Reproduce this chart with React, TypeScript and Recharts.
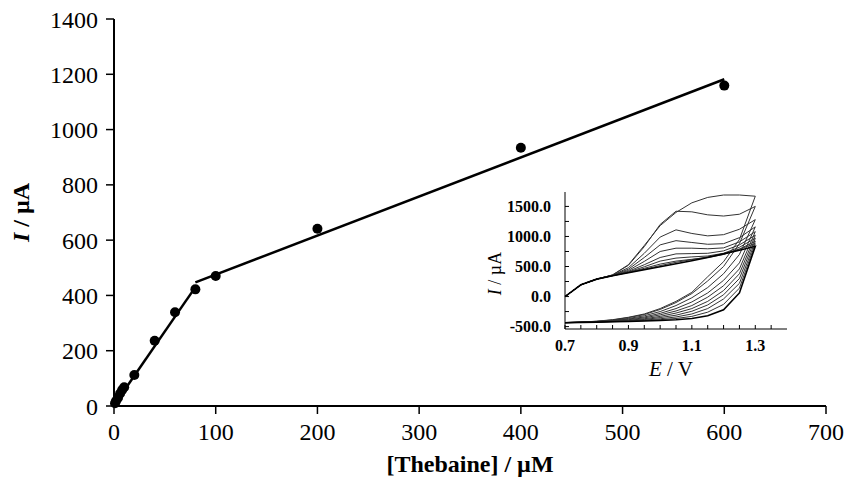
import React from 'react'
import { ComposedChart, LineChart, Line, Scatter, XAxis, YAxis, Label } from 'recharts'

const SERIF = '"Liberation Serif", "Times New Roman", serif'

// calibration points: [Thebaine] (µM) vs peak current (µA)
const concentration = [1, 2, 4, 6, 8, 10, 20, 40, 60, 80, 100, 200, 400, 600]
const current = [10, 18, 30, 45, 58, 68, 112, 236, 339, 422, 470, 641, 934, 1159]

// the two linear ranges
const lowFitX = [0, 80]
const lowFitY = [3, 430]
const highFitX = [80, 600]
const highFitY = [447, 1182]

const xTicks = [0, 100, 200, 300, 400, 500, 600, 700]
const yTicks = [0, 200, 400, 600, 800, 1000, 1200, 1400]

// inset: cyclic voltammograms, forward 0.70 -> 1.30 V then back to 0.70 V
const scanPotential = [
  0.7, 0.75, 0.8, 0.85, 0.9, 0.95, 1.0, 1.05, 1.1, 1.15, 1.2, 1.25, 1.3,
  1.25, 1.2, 1.15, 1.1, 1.05, 1.0, 0.95, 0.9, 0.85, 0.8, 0.75, 0.7,
]
const scanA = [0, 195, 290, 360, 530, 850, 1180, 1400, 1560, 1650, 1690, 1690, 1670, 950, 580, 330, 70, -80, -200, -290, -345, -385, -410, -425, -432]
const scanB = [0, 195, 290, 360, 520, 830, 1200, 1420, 1410, 1360, 1340, 1370, 1500, 880, 500, 260, 50, -100, -215, -300, -350, -390, -412, -426, -432]
const scanC = [0, 195, 290, 355, 480, 720, 990, 1110, 1050, 1010, 1030, 1120, 1280, 700, 380, 150, -20, -150, -250, -320, -365, -395, -415, -427, -433]
const scanD = [0, 195, 290, 355, 455, 650, 860, 930, 900, 870, 880, 980, 1160, 560, 270, 60, -90, -200, -280, -340, -375, -400, -418, -428, -433]
const scanE = [0, 195, 290, 352, 435, 585, 750, 805, 805, 795, 810, 910, 1080, 460, 180, -10, -150, -240, -305, -355, -385, -405, -420, -428, -434]
const scanF = [0, 195, 290, 350, 420, 530, 650, 710, 715, 720, 760, 860, 1020, 380, 100, -80, -200, -275, -330, -370, -395, -410, -422, -429, -434]
const scanG = [0, 195, 290, 348, 410, 495, 590, 640, 660, 675, 720, 820, 970, 300, 30, -140, -245, -310, -350, -382, -402, -414, -424, -430, -435]
const scanH = [0, 195, 290, 347, 405, 470, 540, 590, 620, 650, 700, 790, 920, 220, -40, -200, -290, -340, -370, -392, -407, -417, -425, -430, -435]
const scanI = [0, 195, 290, 346, 400, 455, 515, 570, 615, 660, 715, 790, 880, 140, -130, -260, -330, -365, -385, -400, -411, -419, -426, -431, -436]
const scanBlank = [0, 195, 290, 345, 396, 445, 495, 545, 595, 650, 710, 770, 836, 60, -220, -320, -365, -385, -398, -408, -415, -420, -425, -430, -437]

const insetXTicks = [0.7, 0.75, 0.8, 0.85, 0.9, 0.95, 1.0, 1.05, 1.1, 1.15, 1.2, 1.25, 1.3, 1.35]
const insetXLabels = [0.7, 0.9, 1.1, 1.3]
const insetYTicks = [-500, -250, 0, 250, 500, 750, 1000, 1250, 1500]
const insetYLabels = [-500, 0, 500, 1000, 1500]

const points = concentration.map((x, i) => ({ x, y: current[i] }))
const lowFit = lowFitX.map((x, i) => ({ x, y: lowFitY[i] }))
const highFit = highFitX.map((x, i) => ({ x, y: highFitY[i] }))

const scans = [scanA, scanB, scanC, scanD, scanE, scanF, scanG, scanH, scanI, scanBlank].map((vals) =>
  scanPotential.map((e, i) => ({ e, i: vals[i] }))
)

const isLabel = (list: number[], v: number) => list.some((t) => Math.abs(t - v) < 1e-6)

const axisLine = { stroke: '#000', strokeWidth: 2 }
const mainTick = { fill: '#000', fontSize: 24, fontFamily: SERIF }
const insetTick = { fill: '#000', fontSize: 16, fontFamily: SERIF, fontWeight: 'bold' }

const dot = (p: any) => <circle cx={p.cx} cy={p.cy} r={5} fill="#000" />

const mainXTitle = (p: any) => {
  const vb = p.viewBox
  return (
    <text x={vb.x + vb.width / 2} y={vb.y + 66} textAnchor="middle" fontFamily={SERIF} fontSize={24} fontWeight="bold" fill="#000">
      [Thebaine] / µM
    </text>
  )
}

const mainYTitle = (p: any) => {
  const vb = p.viewBox
  const cx = vb.x + 21
  const cy = vb.y + vb.height / 2
  return (
    <text x={cx} y={cy} transform={`rotate(-90 ${cx} ${cy})`} textAnchor="middle" dominantBaseline="central" fontFamily={SERIF} fontSize={24} fontWeight="bold" fill="#000">
      <tspan fontStyle="italic">I</tspan> / µA
    </text>
  )
}

const insetXTitle = (p: any) => {
  const vb = p.viewBox
  return (
    <text x={vb.x + vb.width / 2 - 5} y={vb.y + 47} textAnchor="middle" fontFamily={SERIF} fontSize={21} fill="#000">
      <tspan fontStyle="italic">E</tspan> / V
    </text>
  )
}

const insetYTitle = (p: any) => {
  const vb = p.viewBox
  const cx = vb.x + 65
  const cy = vb.y + vb.height / 2 + 13
  return (
    <text x={cx} y={cy} transform={`rotate(-90 ${cx} ${cy})`} textAnchor="middle" dominantBaseline="central" fontFamily={SERIF} fontSize={18} fill="#000">
      <tspan fontStyle="italic">I</tspan> / µA
    </text>
  )
}

export default function App() {
  return (
    <div style={{ position: 'absolute', left: 0, top: 0, width: 847, height: 478, background: '#fff', overflow: 'hidden' }}>
      <div style={{ position: 'absolute', left: 0, top: 0 }}>
        <ComposedChart width={847} height={478} margin={{ top: 19, right: 21, bottom: 0, left: 0 }}>
          <XAxis
            type="number"
            dataKey="x"
            domain={[0, 700]}
            ticks={xTicks}
            interval={0}
            height={72}
            tickSize={8}
            tickMargin={9}
            axisLine={axisLine}
            tickLine={{ stroke: '#000', strokeWidth: 1.5 }}
            tick={mainTick}
            label={<Label content={mainXTitle} />}
          />
          <XAxis xAxisId="top" orientation="top" type="number" domain={[0, 700]} height={0} tick={false} tickLine={false} axisLine={axisLine} />
          <YAxis
            type="number"
            dataKey="y"
            domain={[0, 1400]}
            ticks={yTicks}
            interval={0}
            width={114}
            tickSize={8}
            tickMargin={8}
            axisLine={axisLine}
            tickLine={{ stroke: '#000', strokeWidth: 1.5 }}
            tick={mainTick}
            label={<Label content={mainYTitle} />}
          />
          <YAxis yAxisId="right" orientation="right" domain={[0, 1400]} width={0} tick={false} tickLine={false} axisLine={axisLine} />
          <Line data={lowFit} dataKey="y" stroke="#000" strokeWidth={2.5} dot={false} isAnimationActive={false} />
          <Line data={highFit} dataKey="y" stroke="#000" strokeWidth={2.5} dot={false} isAnimationActive={false} />
          <Scatter data={points} fill="#000" shape={dot} isAnimationActive={false} />
        </ComposedChart>
      </div>
      <div style={{ position: 'absolute', left: 430, top: 180 }}>
        <LineChart width={370} height={210} margin={{ top: 12, right: 13, bottom: 0, left: 0 }}>
          <XAxis
            type="number"
            dataKey="e"
            domain={[0.7, 1.4]}
            ticks={insetXTicks}
            interval={0}
            height={61}
            tickSize={-4}
            tickMargin={15}
            axisLine={{ stroke: '#000', strokeWidth: 1 }}
            tickLine={{ stroke: '#000', strokeWidth: 1 }}
            tick={insetTick}
            tickFormatter={(v: number) => (isLabel(insetXLabels, v) ? v.toFixed(1) : '')}
            label={<Label content={insetXTitle} />}
          />
          <XAxis xAxisId="top" orientation="top" type="number" domain={[0.7, 1.4]} height={0} tick={false} tickLine={false} axisLine={{ stroke: '#000', strokeWidth: 1 }} />
          <YAxis
            type="number"
            domain={[-540, 1740]}
            ticks={insetYTicks}
            interval={0}
            width={135}
            tickSize={-4}
            tickMargin={18}
            axisLine={{ stroke: '#000', strokeWidth: 1 }}
            tickLine={{ stroke: '#000', strokeWidth: 1 }}
            tick={insetTick}
            tickFormatter={(v: number) => (isLabel(insetYLabels, v) ? v.toFixed(1) : '')}
            label={<Label content={insetYTitle} />}
          />
          <YAxis yAxisId="right" orientation="right" domain={[-540, 1740]} width={0} tick={false} tickLine={false} axisLine={{ stroke: '#000', strokeWidth: 1 }} />
          {scans.map((data, k) => (
            <Line
              key={k}
              data={data}
              dataKey="i"
              type="linear"
              stroke={k === scans.length - 1 ? '#000' : '#333'}
              strokeWidth={k === scans.length - 1 ? 1.6 : 1}
              dot={false}
              isAnimationActive={false}
            />
          ))}
        </LineChart>
      </div>
    </div>
  )
}
